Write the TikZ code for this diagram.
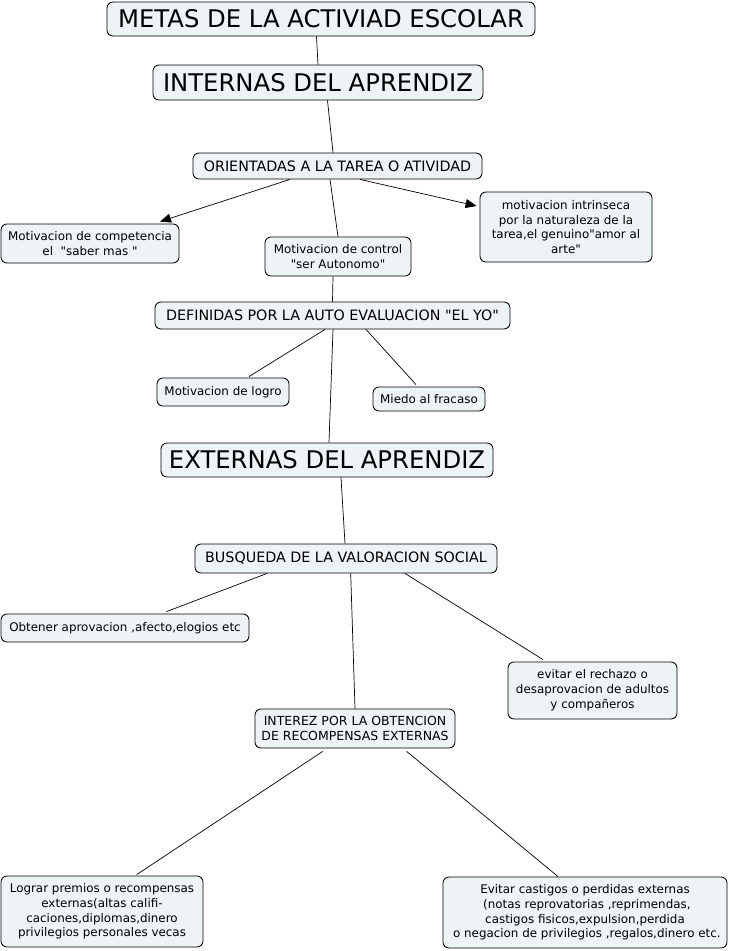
\documentclass[tikz,border=0pt]{standalone}
\usepackage{fontspec}
\setmainfont{DejaVu Sans}
\newfontfamily\dv{DejaVu Sans}
\usetikzlibrary{arrows.meta}
\definecolor{boxfill}{RGB}{238,243,245}
\tikzset{
  box/.style={draw=black, line width=0.85pt, rounded corners=6pt, fill=boxfill, align=center, inner sep=0pt},
  big/.style={box, font=\dv\fontsize{24.3}{28}\selectfont},
  mid/.style={box, font=\dv\fontsize{14.3}{17}\selectfont},
  small/.style={box, font=\dv\fontsize{11.9}{14.8}\selectfont},
  conn/.style={draw=black, line width=0.7pt},
  arr/.style={conn, -{Triangle[length=11pt,width=9pt]}}
}
\begin{document}
\begin{tikzpicture}[x=1pt,y=-1pt]
\useasboundingbox (0,0) rectangle (732,951);
\node[big, minimum width=428pt, minimum height=34pt] (metas) at (321,19) {METAS DE LA ACTIVIAD ESCOLAR};
\node[big, minimum width=330pt, minimum height=35pt] (internas) at (318,82.5) {INTERNAS DEL APRENDIZ};
\node[mid, minimum width=289pt, minimum height=26pt] (orient) at (337.5,166) {ORIENTADAS A LA TAREA O ATIVIDAD};
\node[small, minimum width=178pt, minimum height=39pt] (comp) at (90,243.5) {Motivacion de competencia\\el\ \ "saber mas "};
\node[small, minimum width=146pt, minimum height=39pt] (control) at (338,256.5) {Motivacion de control\\"ser Autonomo"};
\node[small, minimum width=172pt, minimum height=70pt] (intr) at (566,227) {motivacion intrinseca\\por la naturaleza de la\\tarea,el genuino"amor al\\arte"};
\node[mid, minimum width=355pt, minimum height=27pt] (defin) at (332.5,315.5) {DEFINIDAS POR LA AUTO EVALUACION "EL YO"};
\node[small, minimum width=132pt, minimum height=28pt] (logro) at (223,392) {Motivacion de logro};
\node[small, minimum width=112pt, minimum height=24pt] (miedo) at (429,399) {Miedo al fracaso};
\node[big, minimum width=332pt, minimum height=34pt] (externas) at (327,460) {EXTERNAS DEL APRENDIZ};
\node[mid, minimum width=302pt, minimum height=29pt] (busq) at (346,558.5) {BUSQUEDA DE LA VALORACION SOCIAL};
\node[small, minimum width=248pt, minimum height=28pt] (obtener) at (125,628) {Obtener aprovacion ,afecto,elogios etc};
\node[small, minimum width=169pt, minimum height=57pt] (evitar) at (592.5,690.5) {evitar el rechazo o\\desaprovacion de adultos\\y compañeros};
\node[box, font=\dv\fontsize{12.5}{14.5}\selectfont, minimum width=200pt, minimum height=39pt] (interez) at (355,728.5) {INTEREZ POR LA OBTENCION\\DE RECOMPENSAS EXTERNAS};
\node[small, minimum width=202pt, minimum height=71pt] (lograr) at (102,911.5) {Lograr premios o recompensas\\externas(altas califi-\\caciones,diplomas,dinero\\privilegios personales vecas};
\node[small, minimum width=284pt, minimum height=71pt] (castigos) at (585,912.5) {Evitar castigos o perdidas externas\\\ (notas reprovatorias ,reprimendas,\\castigos fisicos,expulsion,perdida\\\ o negacion de privilegios ,regalos,dinero etc.};
% connectors
\draw[conn] ([xshift=-4.5pt]metas.south) -- (internas.north);
\draw[conn] ([xshift=9.5pt]internas.south) -- ([xshift=-4.5pt]orient.north);
\draw[arr] ([xshift=-47.5pt]orient.south) -- ([xshift=70pt,yshift=2pt]comp.north);
\draw[conn] ([xshift=-7.5pt]orient.south) -- (control.north);
\draw[arr] ([xshift=22.5pt]orient.south) -- ([xshift=-3pt,yshift=21pt]intr.west);
\draw[conn] ([xshift=-5pt]control.south) -- (defin.north);
\draw[conn] ([xshift=-7.5pt]defin.south) -- ([xshift=26pt,yshift=1pt]logro.north);
\draw[conn] ([xshift=33.5pt]defin.south) -- ([xshift=-13pt,yshift=2pt]miedo.north);
\draw[conn] ([xshift=0.5pt]defin.south) -- ([xshift=2pt]externas.north);
\draw[conn] ([xshift=14pt]externas.south) -- ([xshift=-1pt]busq.north);
\draw[conn] ([xshift=-79pt]busq.south) -- ([xshift=41.5pt,yshift=2pt]obtener.north);
\draw[conn] ([xshift=59pt]busq.south) -- ([xshift=-49.5pt,yshift=2pt]evitar.north);
\draw[conn] ([xshift=4.7pt]busq.south) -- (interez.north);
\draw[conn] ([xshift=-32.3pt,yshift=-3pt]interez.south) -- ([xshift=34.7pt,yshift=1pt]lograr.north);
\draw[conn] ([xshift=51.7pt,yshift=-3pt]interez.south) -- ([xshift=-27pt]castigos.north);
\end{tikzpicture}
\end{document}
